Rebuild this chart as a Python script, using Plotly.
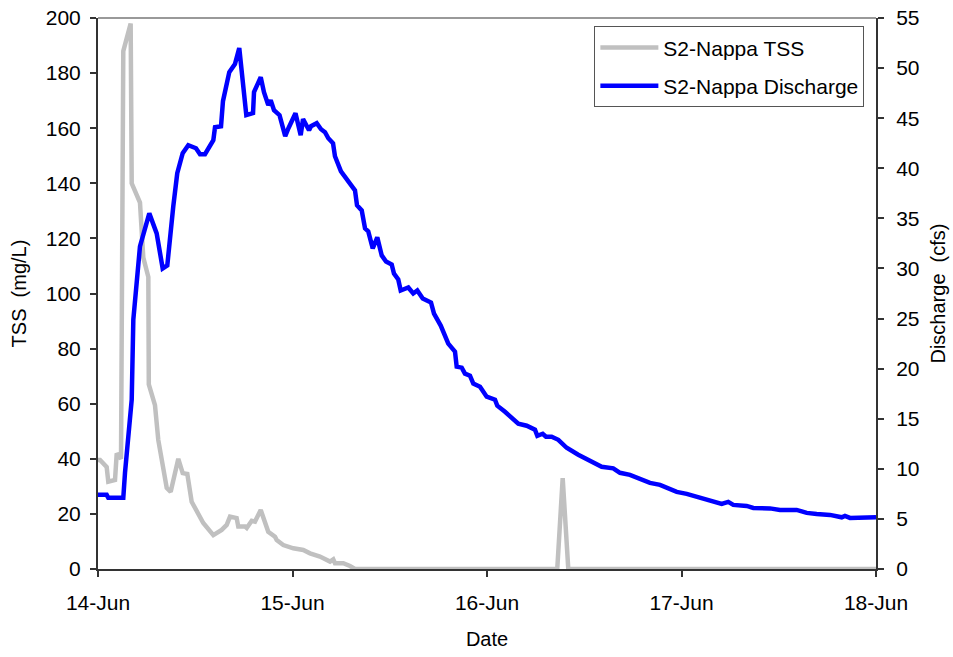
import pandas as pd
import plotly.graph_objects as go

# Hours after 14-Jun 00:00 and values
tss_hours = [0.0, 0.25, 1.07, 1.27, 2.1, 2.31, 2.84, 3.12, 4.03, 4.16, 5.18, 5.59, 6.21, 6.27,
             7.03, 7.44, 8.48, 8.97, 9.91, 10.45, 11.02, 11.56, 12.99, 14.23, 15.26, 15.88,
             16.29, 17.11, 17.31, 18.14, 18.35, 18.97, 19.37, 20.08, 21.01, 21.84, 22.05,
             22.86, 24.1, 25.33, 26.16, 27.39, 28.63, 29.03, 29.24, 30.27, 31.09, 31.71,
             56.67, 57.34, 58.03, 96.0]
tss_mgL = [39.6, 39.6, 37.0, 31.7, 32.3, 42.0, 40.0, 188.0, 198.0, 140.0, 133.0, 113.0, 106.0, 67.0,
           59.5, 46.8, 29.4, 28.0, 40.0, 34.8, 34.5, 24.4, 16.7, 12.3, 14.2, 16.0,
           19.0, 18.5, 15.4, 15.4, 14.9, 17.5, 17.2, 21.4, 13.5, 11.7, 10.5,
           8.7, 7.5, 6.9, 5.7, 4.5, 2.7, 3.5, 2.1, 2.1, 1.1, 0.0,
           0.0, 33.0, 0.0, 0.0]

q_hours = [0.0, 0.25, 1.07, 1.27, 3.12, 3.33, 4.16, 4.36, 5.18, 6.33, 7.24, 7.98, 8.55, 9.29,
           9.78, 10.45, 11.14, 12.09, 12.59, 13.2, 14.23, 14.44, 15.18, 15.42, 16.2, 16.9,
           17.43, 18.3, 19.13, 19.25, 20.08, 20.48, 21.01, 21.31, 21.72, 22.4, 23.1, 23.5,
           24.37, 25.01, 25.3, 26.04, 26.28, 26.99, 27.52, 28.01, 28.42, 29.0, 29.24, 29.98,
           30.48, 31.34, 31.71, 31.96, 32.54, 32.95, 33.35, 33.9, 34.46, 35.01, 35.54, 36.24,
           36.52, 37.05, 37.35, 38.29, 38.9, 39.4, 40.07, 41.09, 41.46, 42.29, 43.22, 44.05,
           44.26, 44.88, 45.28, 45.9, 46.31, 47.14, 47.96, 48.99, 49.27, 50.22, 51.05, 51.86,
           52.9, 53.92, 54.21, 54.87, 55.28, 55.98, 56.8, 57.83, 59.26, 60.5, 62.15, 63.58,
           64.41, 65.64, 66.88, 68.11, 69.35, 70.17, 71.41, 72.64, 74.28, 75.52, 76.96, 77.77,
           78.39, 80.04, 80.86, 82.92, 84.15, 86.21, 87.45, 88.68, 90.32, 91.77, 92.17, 92.79,
           96.0]
q_cfs = [7.4, 7.4, 7.4, 7.1, 7.1, 9.6, 16.9, 24.9, 32.2, 35.5, 33.5, 30.0, 30.3, 36.2,
         39.5, 41.5, 42.3, 42.0, 41.4, 41.4, 42.8, 44.1, 44.2, 46.7, 49.6, 50.4,
         52.0, 45.3, 45.5, 47.6, 49.1, 47.6, 46.3, 46.8, 45.8, 45.3, 43.2, 44.0,
         45.5, 43.3, 44.9, 43.8, 44.2, 44.5, 43.9, 43.6, 43.0, 42.5, 41.2, 39.7,
         39.2, 38.2, 37.8, 36.3, 35.8, 34.0, 33.7, 32.0, 33.1, 31.3, 30.7, 30.4,
         29.5, 28.9, 27.8, 28.1, 27.5, 27.8, 27.0, 26.6, 25.5, 24.3, 22.5, 21.7,
         20.2, 20.1, 19.5, 19.3, 18.5, 18.2, 17.2, 16.9, 16.3, 15.7, 15.1, 14.5,
         14.3, 13.9, 13.3, 13.5, 13.2, 13.2, 12.9, 12.1, 11.4, 10.9, 10.2, 10.05,
         9.6, 9.4, 8.95, 8.6, 8.4, 8.1, 7.7, 7.5, 7.15, 6.9, 6.5, 6.7,
         6.4, 6.3, 6.1, 6.05, 5.9, 5.9, 5.6, 5.5, 5.4, 5.16, 5.3, 5.1,
         5.16]

start = pd.Timestamp("2009-06-14")
tss_time = [start + pd.Timedelta(hours=h) for h in tss_hours]
q_time = [start + pd.Timedelta(hours=h) for h in q_hours]

FONT = "Liberation Sans, Arial, sans-serif"
AX = "#333333"

fig = go.Figure()
fig.add_trace(go.Scatter(x=tss_time, y=tss_mgL, mode="lines", name="S2-Nappa TSS",
                         legendgroup="a",
                         line=dict(color="#C0C0C0", width=4.5), yaxis="y"))
fig.add_trace(go.Scatter(x=q_time, y=q_cfs, mode="lines", name="S2-Nappa Discharge",
                         legendgroup="b",
                         line=dict(color="#0000FF", width=4.5), yaxis="y2"))

fig.update_layout(
    width=953, height=657,
    margin=dict(l=98, r=77, t=18, b=88),
    paper_bgcolor="white", plot_bgcolor="white",
    font=dict(family=FONT, size=21, color="black"),
    showlegend=True,
    legend=dict(x=0.638, y=0.985, xanchor="left", yanchor="top",
                bgcolor="white", bordercolor="#555555", borderwidth=1,
                font=dict(size=21), itemwidth=58, traceorder="grouped", tracegroupgap=8),
    xaxis=dict(range=[start, start + pd.Timedelta(days=4)], type="date",
               tickformat="%d-%b", dtick=86400000, tick0=start, automargin=False,
               showgrid=False, zeroline=False, showline=True, linecolor=AX, linewidth=2,
               ticks="outside", ticklen=6, tickcolor=AX, tickwidth=1.5,
               ticklabelstandoff=8,
               title=dict(text="Date", standoff=19, font=dict(size=20))),
    yaxis=dict(range=[0, 200], dtick=20, showgrid=False, zeroline=False, automargin=False,
               showline=True, linecolor=AX, linewidth=2,
               ticks="outside", ticklen=6, tickcolor=AX, tickwidth=1.5,
               ticklabelstandoff=5,
               title=dict(text="TSS  (mg/L)", standoff=14, font=dict(size=20))),
    yaxis2=dict(range=[0, 55], dtick=5, overlaying="y", side="right", automargin=False,
                showgrid=False, zeroline=False, showline=True, linecolor=AX, linewidth=2,
                ticks="outside", ticklen=6, tickcolor=AX, tickwidth=1.5,
                ticklabelstandoff=8,
                title=dict(text="Discharge  (cfs)", standoff=12, font=dict(size=20))),
    shapes=[dict(type="line", xref="paper", yref="paper", x0=0, x1=1, y0=1, y1=1,
                 line=dict(color="#999999", width=2))],
)

fig.write_html("out.html")
